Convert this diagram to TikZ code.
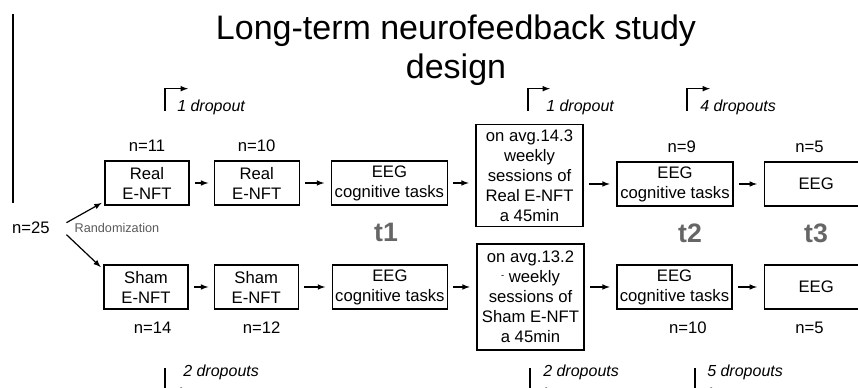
\documentclass[tikz,border=0pt]{standalone}
\usepackage{fontspec}
\setmainfont{Liberation Sans}
\usetikzlibrary{positioning}

\tikzset{
  stage/.style={draw, line width=0.9pt, align=center, inner sep=1pt,
    minimum height=33pt, font=\fontsize{12.5}{15}\selectfont},
  count/.style={font=\fontsize{12.5}{15}\selectfont},
  flow/.style={-latex, line width=0.9pt},
  dropnote/.style={font=\fontsize{12}{14}\selectfont\itshape, anchor=base west, inner sep=0pt},
  timept/.style={font=\fontsize{20}{24}\selectfont\bfseries, text=black!60},
}

\begin{document}
\begin{tikzpicture}[x=0.75pt, y=-0.75pt]
  \useasboundingbox (0,0) rectangle (858,388);

  % title
  \node[font=\fontsize{25.5}{29}\selectfont, align=center] (title) at (456,50)
    {Long-term neurofeedback study\\design};

  % left margin rule
  \coordinate (ruletop) at (13,14);
  \coordinate (rulebot) at (13,203);
  \draw[line width=0.9pt] (ruletop) -- (rulebot);

  % real group
  \node[stage, minimum width=63pt] (R1) at (147,183) {Real\\E-NFT};
  \node[stage, minimum width=63.75pt, right=18pt of R1] (R2) {Real\\E-NFT};
  \node[stage, minimum width=87pt, right=23.25pt of R2] (R3) {EEG\\cognitive tasks};
  \node[stage, minimum width=80.25pt, minimum height=77pt] (R4) at (529.5,175.5)
    {on avg.14.3\\weekly\\sessions of\\Real E-NFT\\a 45min};
  \node[stage, minimum width=87pt] (R5) at (675,184) {EEG\\cognitive tasks};
  \node[stage, minimum width=78pt, right=22.5pt of R5] (R6) {EEG};

  % sham group
  \node[stage, minimum width=63pt] (S1) at (146,287) {Sham\\E-NFT};
  \node[stage, minimum width=63pt, right=18.75pt of S1] (S2) {Sham\\E-NFT};
  \node[stage, minimum width=86.25pt, right=24.75pt of S2] (S3) {EEG\\cognitive tasks};
  \node[stage, minimum width=80.25pt, minimum height=79.5pt] (S4) at (530.5,297)
    {on avg.13.2\\{\raisebox{3pt}{\fontsize{7}{7}\selectfont -}}\ weekly\\sessions of\\Sham E-NFT\\a 45min};
  \node[stage, minimum width=86.25pt] (S5) at (674.5,287) {EEG\\cognitive tasks};
  \node[stage, minimum width=78pt, right=23.25pt of S5] (S6) {EEG};

  % sample sizes
  \node[count] (n25) at (31,228) {n=25};
  \node[font=\fontsize{9.5}{11}\selectfont, text=black!65, anchor=west] (rand) at (70,228) {Randomization};
  \node[count, above=3pt of R1] (nR1) {n=11};
  \node[count, above=3pt of R2] (nR2) {n=10};
  \node[count, above=3pt of R5, xshift=5pt] (nR5) {n=9};
  \node[count, above=3pt of R6, xshift=-5pt] (nR6) {n=5};
  \node[count, below=6pt of S1, xshift=5pt] (nS1) {n=14};
  \node[count, below=6pt of S2, xshift=4pt] (nS2) {n=12};
  \node[count, below=6pt of S5, xshift=10pt] (nS5) {n=10};
  \node[count, below=6pt of S6, xshift=-5pt] (nS6) {n=5};

  % time points
  \node[timept] (t1) at (386,232) {t1};
  \node[timept] (t2) at (690,233) {t2};
  \node[timept] (t3) at (816,233) {t3};

  % randomization
  \draw[flow] ([shift={(9pt,4pt)}]n25.east) -- ([shift={(-2pt,2pt)}]R1.south west);
  \draw[flow] ([shift={(9pt,-5pt)}]n25.east) -- ([shift={(-2pt,-2pt)}]S1.north west);

  % steps
  \draw[flow, shorten <=4pt, shorten >=4pt] (R1) -- (R2);
  \draw[flow, shorten <=4pt, shorten >=5pt] (R2.east) -- (R3.west);
  \draw[flow, shorten <=4pt, shorten >=5pt] (R3.east) -- (R3.east -| R4.west);
  \draw[flow, shorten <=4pt, shorten >=5pt] (R5.west -| R4.east) -- (R5.west);
  \draw[flow, shorten <=4pt, shorten >=5pt] (R5) -- (R6);
  \draw[flow, shorten <=4pt, shorten >=4pt] (S1) -- (S2);
  \draw[flow, shorten <=4pt, shorten >=5pt] (S2.east) -- (S2.east -| S3.west);
  \draw[flow, shorten <=4pt, shorten >=5pt] (S3.east) -- (S3.east -| S4.west);
  \draw[flow, shorten <=4pt, shorten >=5pt] (S5.west -| S4.east) -- (S5.west);
  \draw[flow, shorten <=4pt, shorten >=5pt] (S5) -- (S6);

  % dropouts, real group
  \node[dropnote] (dA) at (177,112) {1 dropout};
  \node[dropnote] (dB) at (546,112) {1 dropout};
  \node[dropnote] (dC) at (700,112) {4 dropouts};
  \draw[flow] ([shift={(-9pt,1pt)}]dA.base west) |- +(17.25pt,16.5pt);
  \draw[flow] ([shift={(-13.5pt,1pt)}]dB.base west) |- +(16.5pt,16.5pt);
  \draw[flow] ([shift={(-9.75pt,1pt)}]dC.base west) |- +(17.25pt,16.5pt);

  % dropouts, sham group
  \node[dropnote] (dD) at (183,377) {2 dropouts};
  \node[dropnote] (dE) at (543,377) {2 dropouts};
  \node[dropnote] (dF) at (707,377) {5 dropouts};
  \draw[flow] ([shift={(-13.5pt,6.75pt)}]dD.base west) |- +(17.25pt,-16.5pt);
  \draw[flow] ([shift={(-9.75pt,6.75pt)}]dE.base west) |- +(17.25pt,-16.5pt);
  \draw[flow] ([shift={(-9pt,6.75pt)}]dF.base west) |- +(17.25pt,-16.5pt);
\end{tikzpicture}
\end{document}
